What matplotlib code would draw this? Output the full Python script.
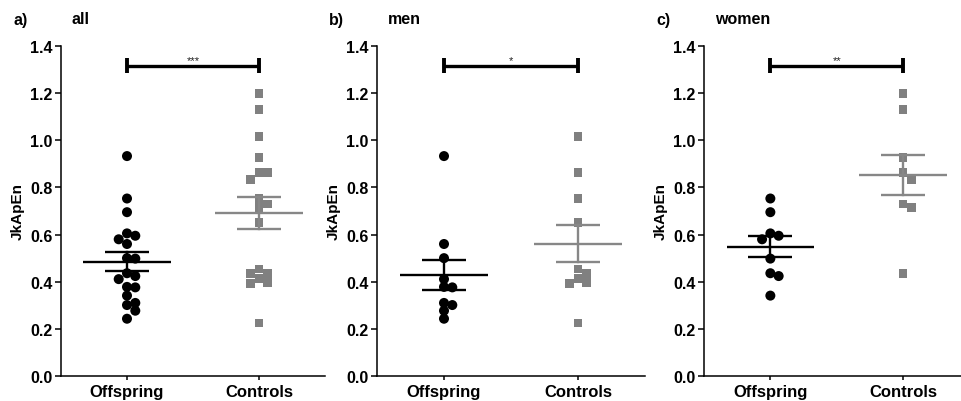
import numpy as np
import matplotlib
matplotlib.use("Agg")
import matplotlib.pyplot as plt

plt.rcParams['font.family'] = ['Liberation Sans', 'DejaVu Sans']
plt.rcParams['font.weight'] = 'bold'

groups = ["Offspring", "Controls"]
panel_letters = ["a)", "b)", "c)"]
panel_titles = ["all", "men", "women"]
significance = ["***", "*", "**"]
yticks = [0.0, 0.2, 0.4, 0.6, 0.8, 1.0, 1.2, 1.4]

men_offspring = [0.933, 0.560, 0.500, 0.411, 0.378, 0.376, 0.310, 0.301, 0.277, 0.243]
men_controls = [1.017, 0.864, 0.754, 0.650, 0.454, 0.436, 0.415, 0.398, 0.393, 0.225]
women_offspring = [0.753, 0.695, 0.605, 0.595, 0.580, 0.498, 0.436, 0.424, 0.341]
women_controls = [1.200, 1.130, 0.926, 0.863, 0.832, 0.730, 0.715, 0.436]
all_offspring = men_offspring + women_offspring
all_controls = men_controls + women_controls

panels = [
    (all_offspring, all_controls),
    (men_offspring, men_controls),
    (women_offspring, women_controls),
]

W, H = 962, 402
fig = plt.figure(figsize=(W / 100, H / 100), dpi=100)

# axes boxes in pixels: left, right, xlim right
boxes = [(61, 325, 1.5), (377, 645, 1.5), (704, 962, 1.444)]
bottom_px, top_px = 377, 47

colors = ["black", "#808080"]
line_colors = ["black", "#878787"]
markers = ["o", "s"]
msizes = [52, 40]


def beeswarm(vals, xscale, yscale, diam):
    vals = np.asarray(vals)
    order = np.argsort(-vals)
    offs = np.zeros(len(vals))
    placed = []
    step = diam / xscale
    for i in order:
        cands = [0]
        for k in range(1, 6):
            cands += [k * step, -k * step]
        for c in cands:
            ok = True
            for (px, py) in placed:
                dx = (c - px) * xscale
                dy = (vals[i] - py) * yscale
                if dx * dx + dy * dy < (diam * 0.92) ** 2:
                    ok = False
                    break
            if ok:
                offs[i] = c
                placed.append((c, vals[i]))
                break
    return offs


for p, (data_pair, (lpx, rpx, xr)) in enumerate(zip(panels, boxes)):
    ax = fig.add_axes([lpx / W, (H - bottom_px) / H, (rpx - lpx) / W,
                       (bottom_px - top_px) / H])
    ax.set_xlim(-0.5, xr)
    ax.set_ylim(0, 1.4)
    xscale = (rpx - lpx) / (xr + 0.5)
    yscale = (bottom_px - top_px) / 1.4
    for g, vals in enumerate(data_pair):
        vals = np.asarray(vals)
        offs = beeswarm(vals, xscale, yscale, 8.3)
        ax.scatter(g + offs, vals, s=msizes[g], marker=markers[g],
                   color=colors[g], edgecolors='none', zorder=3)
        m = vals.mean()
        sem = vals.std(ddof=1) / np.sqrt(len(vals))
        lc = line_colors[g]
        ax.plot([g - 0.33, g + 0.33], [m, m], color=lc, lw=1.7, zorder=4,
                solid_capstyle='butt')
        ax.plot([g, g], [m - sem, m + sem], color=lc, lw=1.7, zorder=4)
        for yy in (m - sem, m + sem):
            ax.plot([g - 0.165, g + 0.165], [yy, yy], color=lc, lw=1.7,
                    zorder=4, solid_capstyle='butt')
    # significance bar
    ax.plot([0, 1], [1.316, 1.316], color='black', lw=2.4, solid_capstyle='butt')
    for xx in (0, 1):
        ax.plot([xx, xx], [1.285, 1.348], color='black', lw=2.8,
                solid_capstyle='butt')
    ax.text(0.5, 1.321, significance[p], ha='center', va='bottom',
            fontsize=8, fontweight='normal', color='#222222')

    ax.set_xticks([0, 1])
    ax.set_xticklabels(groups, fontsize=12, fontweight='bold')
    ax.set_yticks(yticks)
    ax.set_yticklabels([f"{v:.1f}" for v in yticks], fontsize=11.5,
                       fontweight='bold')
    ax.set_ylabel("JkApEn", fontsize=11, fontweight='bold', labelpad=4)
    for s in ('top', 'right'):
        ax.spines[s].set_visible(False)
    for s in ('left', 'bottom'):
        ax.spines[s].set_linewidth(1.1)
    ax.tick_params(axis='y', length=4, width=1.1, pad=2)
    ax.tick_params(axis='x', length=3, width=1.1, pad=3)

    fig.text((lpx - 48) / W, 1 - 20 / H, panel_letters[p], fontsize=11.5,
             fontweight='bold', va='center', ha='left')
    fig.text((lpx + 11) / W, 1 - 20 / H, panel_titles[p], fontsize=11.5,
             fontweight='bold', va='center', ha='left')

fig.savefig("out.png", dpi=100)
